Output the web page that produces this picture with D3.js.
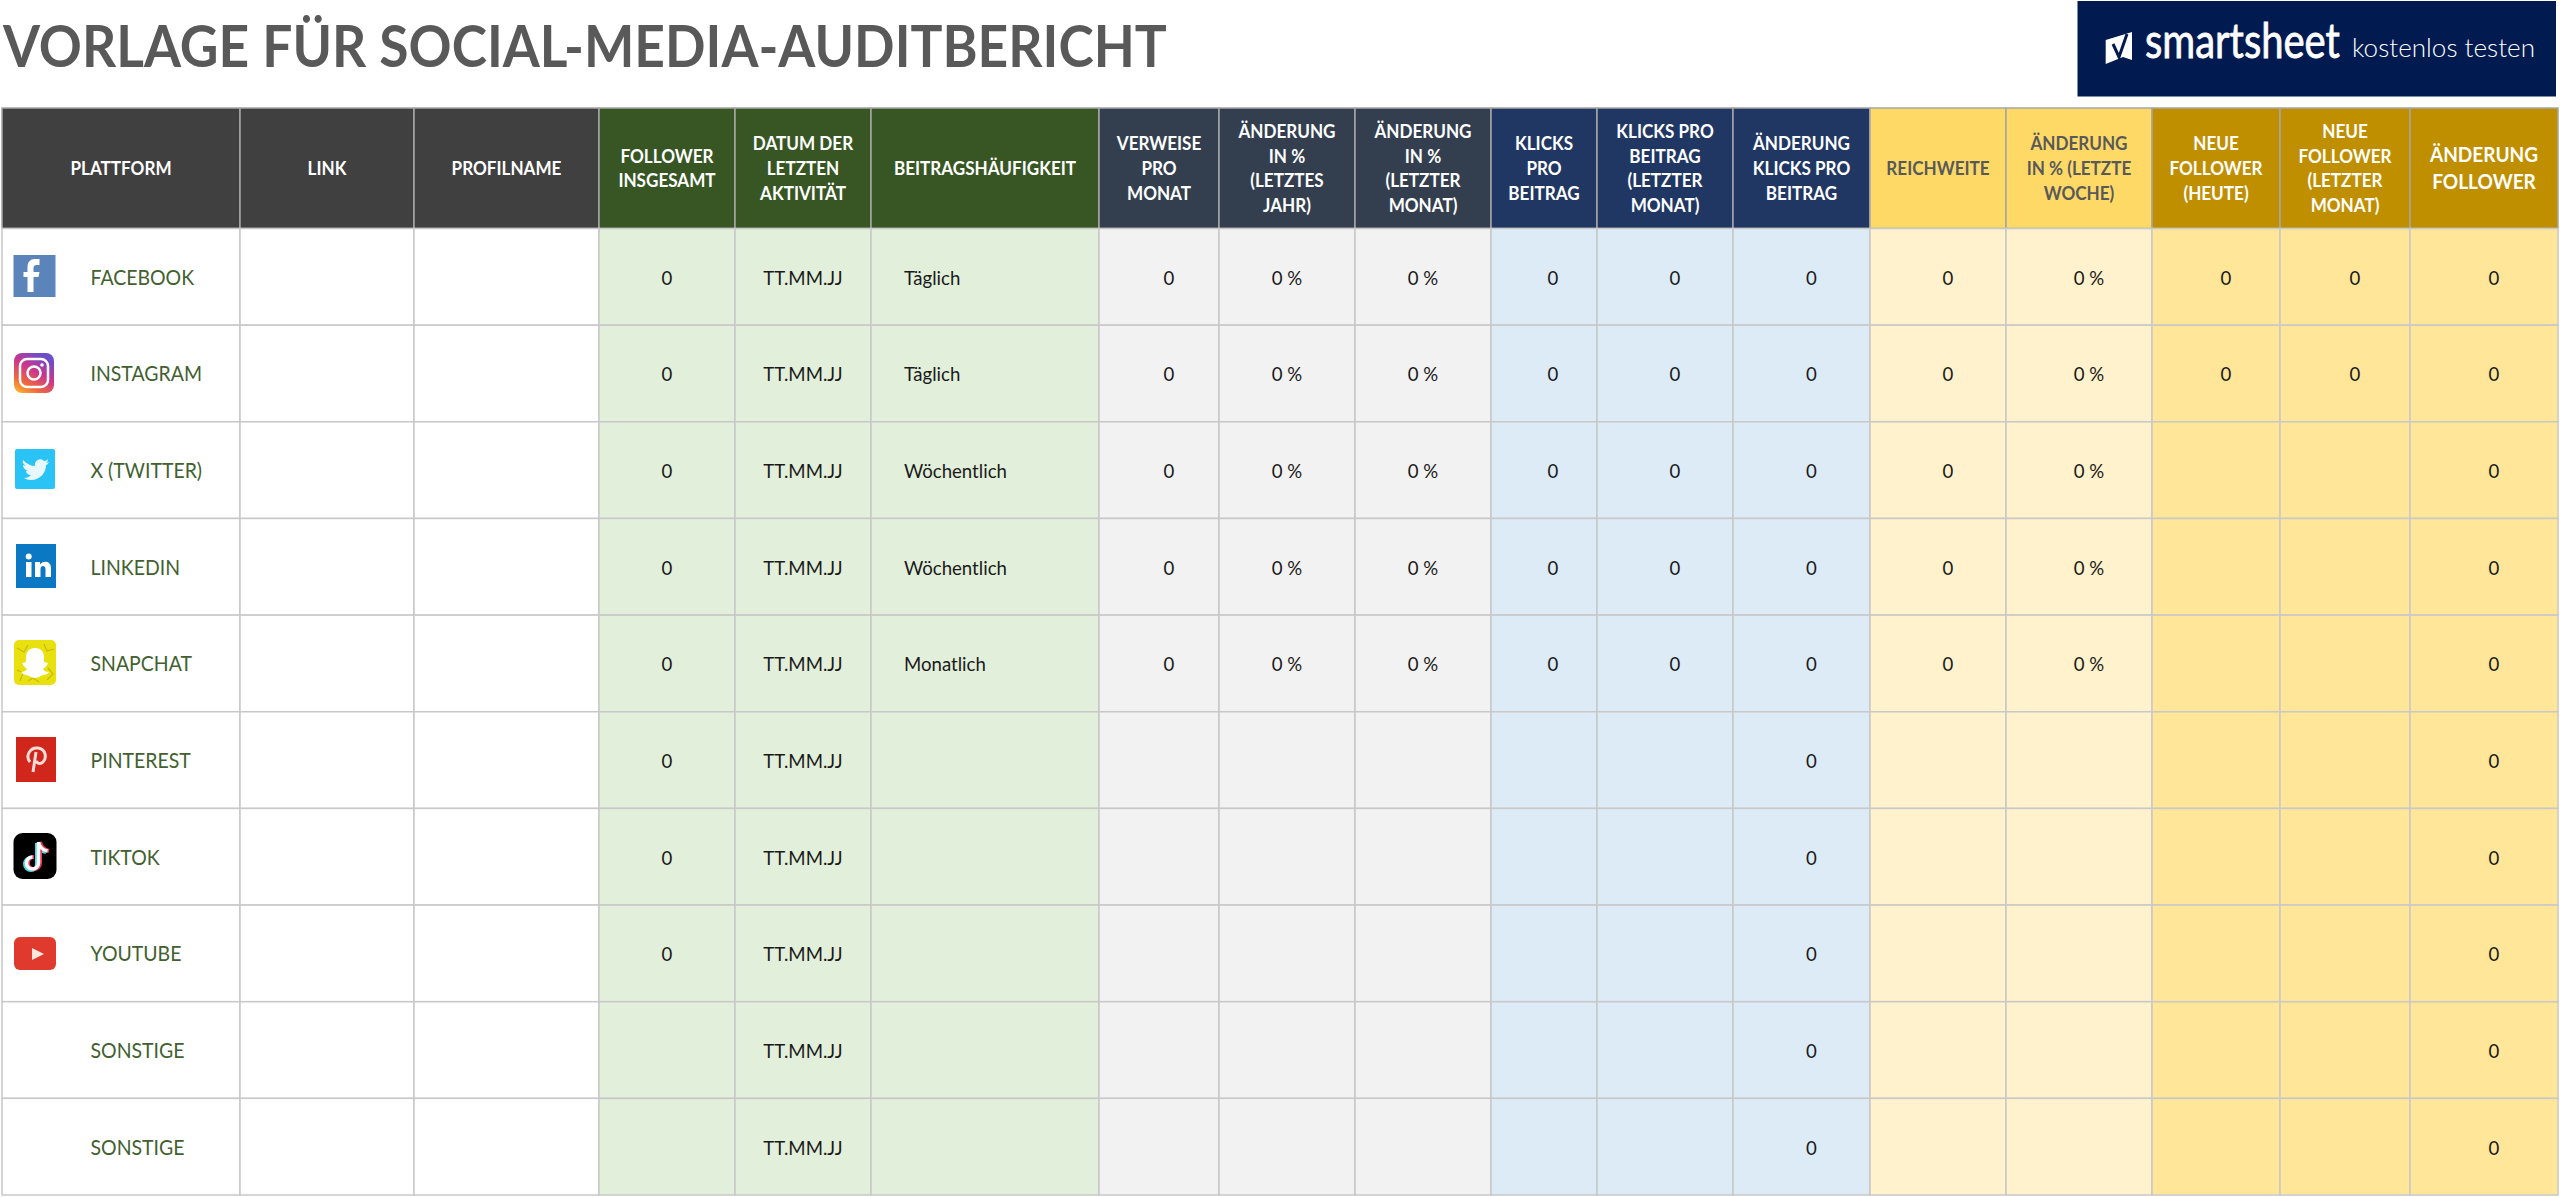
<!DOCTYPE html>
<html>
<head>
<meta charset="utf-8">
<script src="https://cdn.jsdelivr.net/npm/d3@7"></script>
<style>
  html, body { margin: 0; padding: 0; background: #fff; }
  svg { display: block; }
  text { font-family: Lato, sans-serif; }
</style>
</head>
<body>
<svg id="chart" width="2560" height="1197"></svg>
<script>
// values, null = empty cell
var platforms = ["FACEBOOK", "INSTAGRAM", "X (TWITTER)", "LINKEDIN", "SNAPCHAT", "PINTEREST", "TIKTOK", "YOUTUBE", "SONSTIGE", "SONSTIGE "];
var links = [null, null, null, null, null, null, null, null, null, null];
var profiles = [null, null, null, null, null, null, null, null, null, null];
var followers = [0, 0, 0, 0, 0, 0, 0, 0, null, null];
var lastActive = ["TT.MM.JJ", "TT.MM.JJ", "TT.MM.JJ", "TT.MM.JJ", "TT.MM.JJ", "TT.MM.JJ", "TT.MM.JJ", "TT.MM.JJ", "TT.MM.JJ", "TT.MM.JJ"];
var frequency = ["Täglich", "Täglich", "Wöchentlich", "Wöchentlich", "Monatlich", null, null, null, null, null];
var referrals = [0, 0, 0, 0, 0, null, null, null, null, null];
var changeYear = ["0 %", "0 %", "0 %", "0 %", "0 %", null, null, null, null, null];
var changeMonth = ["0 %", "0 %", "0 %", "0 %", "0 %", null, null, null, null, null];
var clicks = [0, 0, 0, 0, 0, null, null, null, null, null];
var clicksLastMonth = [0, 0, 0, 0, 0, null, null, null, null, null];
var clicksChange = [0, 0, 0, 0, 0, 0, 0, 0, 0, 0];
var reach = [0, 0, 0, 0, 0, null, null, null, null, null];
var reachChange = ["0 %", "0 %", "0 %", "0 %", "0 %", null, null, null, null, null];
var newToday = [0, 0, null, null, null, null, null, null, null, null];
var newLastMonth = [0, 0, null, null, null, null, null, null, null, null];
var followerChange = [0, 0, 0, 0, 0, 0, 0, 0, 0, 0];

var headerLines = [
  ["PLATTFORM"], ["LINK"], ["PROFILNAME"],
  ["FOLLOWER", "INSGESAMT"], ["DATUM DER", "LETZTEN", "AKTIVITÄT"], ["BEITRAGSHÄUFIGKEIT"],
  ["VERWEISE", "PRO", "MONAT"], ["ÄNDERUNG", "IN %", "(LETZTES", "JAHR)"], ["ÄNDERUNG", "IN %", "(LETZTER", "MONAT)"],
  ["KLICKS", "PRO", "BEITRAG"], ["KLICKS PRO", "BEITRAG", "(LETZTER", "MONAT)"], ["ÄNDERUNG", "KLICKS PRO", "BEITRAG"],
  ["REICHWEITE"], ["ÄNDERUNG", "IN % (LETZTE", "WOCHE)"],
  ["NEUE", "FOLLOWER", "(HEUTE)"], ["NEUE", "FOLLOWER", "(LETZTER", "MONAT)"], ["ÄNDERUNG", "FOLLOWER"]
];
var columnValues = [platforms, links, profiles, followers, lastActive, frequency, referrals, changeYear, changeMonth,
  clicks, clicksLastMonth, clicksChange, reach, reachChange, newToday, newLastMonth, followerChange];

// layout and styling
var colEdges = [2, 240, 414, 599, 735, 871, 1099, 1219, 1355, 1491, 1597, 1733, 1870, 2006, 2152, 2280, 2410, 2558];
var headFill = ["#404040", "#404040", "#404040", "#375623", "#375623", "#375623", "#333f4f", "#333f4f", "#333f4f",
  "#203764", "#203764", "#203764", "#ffd966", "#ffd966", "#bf8f00", "#bf8f00", "#bf8f00"];
var cellFill = ["#fff", "#fff", "#fff", "#e2efda", "#e2efda", "#e2efda", "#f2f2f2", "#f2f2f2", "#f2f2f2",
  "#ddebf7", "#ddebf7", "#ddebf7", "#fff2cc", "#fff2cc", "#ffe699", "#ffe699", "#ffe699"];
var valueShift = [0, 0, 0, 0, 0, 0, 10, 0, 0, 9, 10, 10, 10, 10, 10, 10, 10];

var svg = d3.select("#chart");
var x = d3.scaleLinear().domain(d3.range(colEdges.length)).range(colEdges);
var y = d3.scaleBand().domain(d3.range(platforms.length)).range([228.5, 1195]);
var headTop = 108, headBottom = 228.5;

// the source image is squeezed a bit sideways, so text gets a horizontal scale too
function squeezed(px, py, sx) {
  return "translate(" + px + "," + py + ") scale(" + sx + ",1)";
}

svg.append("text").attr("transform", squeezed(3, 67, 0.92))
  .attr("font-size", 58).attr("font-weight", 700).attr("fill", "#595959")
  .text("VORLAGE FÜR SOCIAL-MEDIA-AUDITBERICHT");

// header row
var heads = svg.append("g").selectAll("g").data(headerLines).join("g");
heads.append("rect")
  .attr("x", function(d, i) { return x(i); })
  .attr("y", headTop)
  .attr("width", function(d, i) { return x(i + 1) - x(i); })
  .attr("height", headBottom - headTop)
  .attr("fill", function(d, i) { return headFill[i]; })
  .attr("stroke", "#a6a6a6").attr("stroke-width", 1.5);
heads.each(function(lines, i) {
  var big = i === 16;
  var size = big ? 20.5 : 19, pitch = big ? 27 : 24.6, sx = big ? 0.93 : 0.9;
  var cy = (headTop + headBottom) / 2;
  d3.select(this).selectAll("text").data(lines).join("text")
    .attr("transform", function(d, k) {
      return squeezed((x(i) + x(i + 1)) / 2, cy + (k - (lines.length - 1) / 2) * pitch + size * 0.36, sx);
    })
    .attr("text-anchor", "middle")
    .attr("font-size", size).attr("font-weight", 700)
    .attr("fill", headFill[i] === "#ffd966" ? "#595959" : "#fff")
    .text(function(d) { return d; });
});

// body cells
columnValues.forEach(function(values, c) {
  var col = svg.append("g");
  col.selectAll("rect").data(values).join("rect")
    .attr("x", x(c))
    .attr("y", function(d, r) { return y(r); })
    .attr("width", x(c + 1) - x(c))
    .attr("height", y.bandwidth())
    .attr("fill", cellFill[c])
    .attr("stroke", "#c8c8c8").attr("stroke-width", 1.5);
  var px = c === 0 ? 90.5 : c === 5 ? 904 : (x(c) + x(c + 1)) / 2 + valueShift[c];
  col.selectAll("text").data(values).join("text")
    .filter(function(d) { return d !== null; })
    .attr("transform", function(d, r) {
      return squeezed(px, y(r) + y.bandwidth() / 2 + 8, c === 0 ? 0.95 : 0.98);
    })
    .attr("text-anchor", c === 0 || c === 5 ? "start" : "middle")
    .attr("font-size", c === 0 ? 20.5 : 19)
    .attr("fill", c === 0 ? "#426030" : "#1a1a1a")
    .text(function(d) { return String(d).trim(); });
});

// platform icons
var defs = svg.append("defs");
var ig = defs.append("linearGradient").attr("id", "igGrad").attr("x1", 0).attr("y1", 1).attr("x2", 0.6).attr("y2", 0);
[["0", "#fbc52d"], ["0.3", "#f0683c"], ["0.65", "#c9358f"], ["1", "#6a4fc8"]].forEach(function(s) {
  ig.append("stop").attr("offset", s[0]).attr("stop-color", s[1]);
});
var icons = svg.append("g");

function icon(tx, ty) { return icons.append("g").attr("transform", "translate(" + tx + "," + ty + ")"); }

var fb = icon(13.5, 255);
fb.append("rect").attr("width", 42).attr("height", 42).attr("fill", "#5b84ba");
fb.append("path").attr("fill", "#fff").attr("d", "M14 37V22h-4v-5h4v-5c0-5 3-8 7-8h5v6h-3c-2 0-3 1-3 3v4h6l-1 5h-5v15z");

var ins = icon(14, 353);
ins.append("rect").attr("width", 40).attr("height", 40).attr("rx", 8).attr("fill", "url(#igGrad)");
ins.append("rect").attr("x", 6).attr("y", 6).attr("width", 28).attr("height", 28).attr("rx", 7)
  .attr("fill", "none").attr("stroke", "#fff").attr("stroke-width", 2.5);
ins.append("circle").attr("cx", 20).attr("cy", 20).attr("r", 6.5).attr("fill", "none").attr("stroke", "#fff").attr("stroke-width", 2.5);
ins.append("circle").attr("cx", 28).attr("cy", 12).attr("r", 1.8).attr("fill", "#fff");

var tw = icon(15, 449);
tw.append("rect").attr("width", 40).attr("height", 40).attr("rx", 2).attr("fill", "#29c4f5");
tw.append("path").attr("fill", "#e8f8fd").attr("d", "M8 11c4 4 8 6 12 6-1-5 5-9 9-5 2 0 3-1 4-2 0 2-1 3-2 4l3-1c-1 2-2 3-3 3 0 8-6 15-15 15-3 0-5-1-7-2 3 0 5-1 7-3-3 0-5-2-5-4h2c-3-1-5-3-5-6l3 1c-3-2-4-4-3-6z");

var li = icon(16, 544);
li.append("rect").attr("width", 40).attr("height", 44).attr("fill", "#0a78c2");
li.append("rect").attr("x", 10).attr("y", 18).attr("width", 5.5).attr("height", 15).attr("fill", "#fff");
li.append("circle").attr("cx", 12.7).attr("cy", 12.5).attr("r", 3).attr("fill", "#fff");
li.append("path").attr("fill", "#fff").attr("d", "M19 18h5v2.5c2-4 11-4.5 11 3.5v9h-5.5v-8c0-4-5-4-5 0v8H19z");

var sc = icon(14, 640);
sc.append("rect").attr("width", 42).attr("height", 45).attr("rx", 5).attr("fill", "#e8e10f");
sc.append("path").attr("fill", "none").attr("stroke", "#c9b90c").attr("stroke-width", 1.2)
  .attr("d", "M3 8l7 4 4-7M30 4l3 7 7-2M3 30l6 3-3 8M34 28l5 6-6 6M14 41l5-3 6 4");
sc.append("path").attr("fill", "#fff").attr("d", "M21 8c6 0 9 4 9 9v5l4 1c-1 3-3 4-5 6 1 2 3 3 6 3-1 2-3 2-5 3-3 0-5 3-9 3s-6-3-9-3c-2-1-4-1-5-3 3 0 5-1 6-3-2-2-4-3-5-6l4-1v-5c0-5 3-9 9-9z");

var pin = icon(16, 737);
pin.append("rect").attr("width", 40).attr("height", 45).attr("fill", "#d0261c");
pin.append("path").attr("fill", "none").attr("stroke", "#f8dcd8").attr("stroke-width", 3)
  .attr("d", "M14 25c-5-6 0-15 8-14 8 1 9 10 5 14-3 3-6 1-7-1M20 15l-3 20");

var tt = icon(13.5, 833);
tt.append("rect").attr("width", 43).attr("height", 46).attr("rx", 9).attr("fill", "#000");
var note = "M25 9v21a6 6 0 1 1-6-6M25 9c1 5 4 8 9 9";
tt.append("path").attr("d", note).attr("transform", "translate(-1.5,1)").attr("fill", "none").attr("stroke", "#4fd8e4").attr("stroke-width", 4);
tt.append("path").attr("d", note).attr("transform", "translate(1.5,0)").attr("fill", "none").attr("stroke", "#f0385c").attr("stroke-width", 4);
tt.append("path").attr("d", note).attr("fill", "none").attr("stroke", "#fff").attr("stroke-width", 3.5);

var yt = icon(14, 937);
yt.append("rect").attr("width", 42).attr("height", 33).attr("rx", 6).attr("fill", "#df3a2d");
yt.append("path").attr("fill", "#fbe6dc").attr("d", "M18 11l12 6-12 6z");

// logo box
var logo = svg.append("g");
logo.append("rect").attr("x", 2077.5).attr("y", 1).attr("width", 478.5).attr("height", 95.5).attr("fill", "#011a50");
logo.append("path").attr("fill", "#fff").attr("d", "M2105.7 40l26.3-8v28l-9-3-17.3 7z");
logo.append("path").attr("fill", "none").attr("stroke", "#011a50").attr("stroke-width", 3).attr("d", "M2113 44l6 13 8-23");
var brand = logo.append("text").attr("font-size", 48).attr("font-weight", 400).attr("fill", "#fff")
  .attr("stroke", "#fff").attr("stroke-width", 0.8)
  .text("smartsheet");
brand.attr("transform", squeezed(2145, 58, 195 / brand.node().getComputedTextLength()));
logo.append("text").attr("x", 2352).attr("y", 57).attr("font-size", 26).attr("font-weight", 300).attr("fill", "#fff")
  .attr("textLength", 183).attr("lengthAdjust", "spacing")
  .text("kostenlos testen");
</script>
</body>
</html>
